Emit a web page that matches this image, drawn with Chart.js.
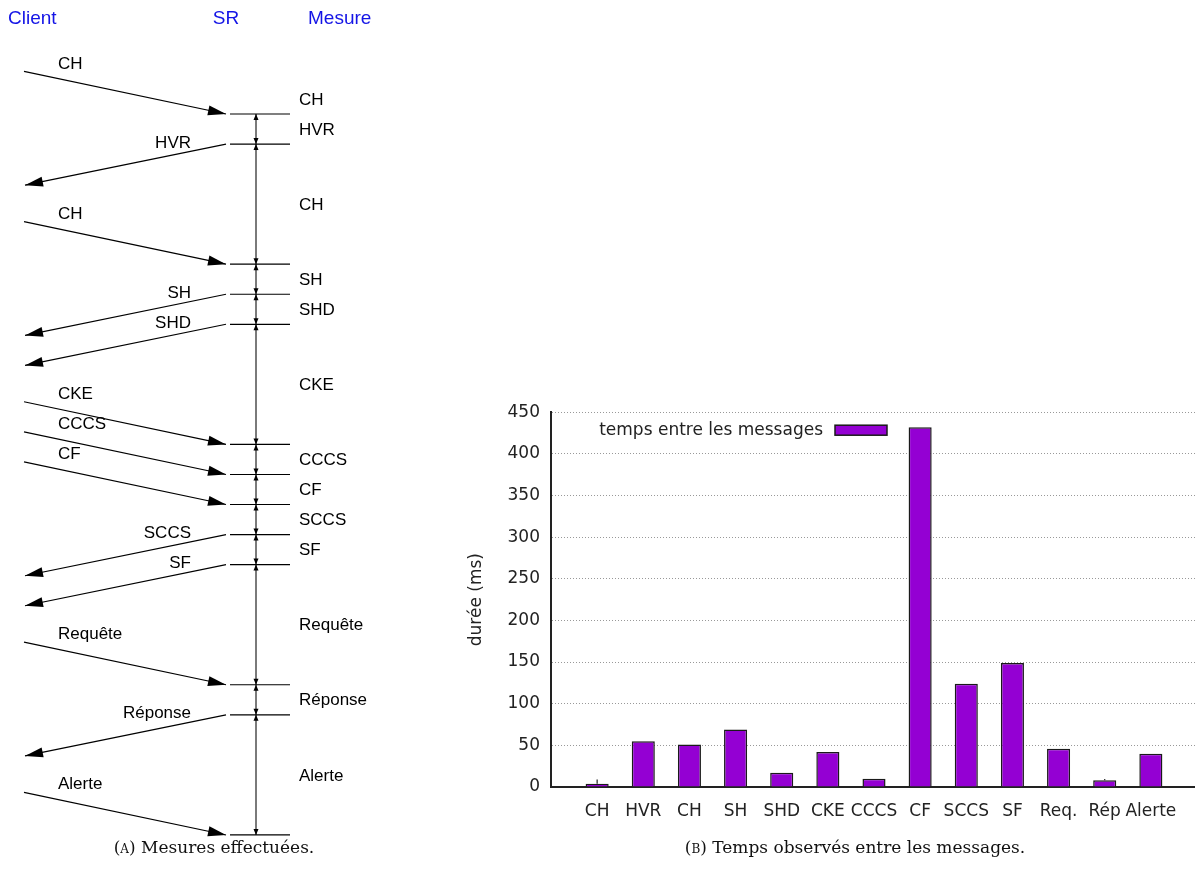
<!DOCTYPE html>
<html lang="fr">
<head>
<meta charset="utf-8">
<title>Mesures et temps entre les messages</title>
<script src="https://cdn.jsdelivr.net/npm/chart.js@4.4.0/dist/chart.umd.min.js"></script>
<style>
    html, body { margin: 0; padding: 0; background: #fff; overflow: hidden; }
    body { width: 1195px; height: 885px; position: relative; }
    #sequence { position: absolute; left: 0; top: 0; }
    #durations { position: absolute; left: 440px; top: 391px; }
    .caption {
        position: absolute; top: 836px;
        font-family: "DejaVu Serif", "Liberation Serif", serif;
        font-size: 17px; line-height: 22px; text-align: center; color: #111;
    }
    .sc { font-variant: small-caps; }
</style>
</head>
<body>
<canvas id="sequence" width="400" height="845"></canvas>
<canvas id="durations" width="771" height="439"></canvas>
<div class="caption" style="left:0;width:428px">(<span class="sc">a</span>) Mesures effectuées.</div>
<div class="caption" style="left:555px;width:600px">(<span class="sc">b</span>) Temps observés entre les messages.</div>

<script>
// (b) temps entre les messages
const barLabels = ['CH', 'HVR', 'CH', 'SH', 'SHD', 'CKE', 'CCCS', 'CF', 'SCCS', 'SF', 'Req.', 'Rép', 'Alerte'];
const barValues = [4, 55, 51, 69, 17, 42, 10, 432, 124, 149, 46, 8, 40];
const barErrors = [5, 0, 0, 0, 0, 0, 0, 0, 0, 0, 0, 1.5, 0];
const yTicks = [0, 50, 100, 150, 200, 250, 300, 350, 400, 450];
const seriesLabel = 'temps entre les messages';

// (a) schéma des échanges
const participants = ['Client', 'SR', 'Mesure'];
const messages = ['CH', 'HVR', 'CH', 'SH', 'SHD', 'CKE', 'CCCS', 'CF', 'SCCS', 'SF', 'Requête', 'Réponse', 'Alerte'];
const directions = ['in', 'out', 'in', 'out', 'out', 'in', 'in', 'in', 'out', 'out', 'in', 'out', 'in'];
const eventSteps = [0, 1, 5, 6, 7, 11, 12, 13, 14, 15, 19, 20, 24];

Chart.defaults.font.family = '"DejaVu Sans", sans-serif';
Chart.defaults.color = '#222';

// --- schéma (a) ---
const CLIENT_X = 24, SR_X = 226, TICK_L = 230, TICK_R = 290, MEASURE_X = 256;
const IN_RISE = 1.42, OUT_DROP = 1.37;
const SANS = '"Liberation Sans", Arial, sans-serif';

const seqDatasets = [];
messages.forEach((m, i) => {
    const ev = eventSteps[i];
    const pts = directions[i] === 'in'
        ? [{ x: CLIENT_X, y: ev - IN_RISE }, { x: SR_X, y: ev }]
        : [{ x: SR_X, y: ev }, { x: CLIENT_X + 1, y: ev + OUT_DROP }];
    seqDatasets.push({ label: m, data: pts, borderColor: '#000', borderWidth: 1.2 });
    seqDatasets.push({ label: m, data: [{ x: TICK_L, y: ev }, { x: TICK_R, y: ev }], borderColor: '#000', borderWidth: 1.2 });
});
seqDatasets.push({
    label: 'mesure',
    data: [{ x: MEASURE_X, y: eventSteps[0] }, { x: MEASURE_X, y: eventSteps[eventSteps.length - 1] }],
    borderColor: '#7a7a7a', borderWidth: 2
});

function arrowHead(ctx, x0, y0, x1, y1, len, half) {
    const a = Math.atan2(y1 - y0, x1 - x0);
    const bx = x1 - len * Math.cos(a), by = y1 - len * Math.sin(a);
    ctx.beginPath();
    ctx.moveTo(x1, y1);
    ctx.lineTo(bx - half * Math.sin(a), by + half * Math.cos(a));
    ctx.lineTo(bx + half * Math.sin(a), by - half * Math.cos(a));
    ctx.closePath();
    ctx.fill();
}

const sequenceDecor = {
    id: 'sequenceDecor',
    afterDatasetsDraw(chart) {
        const { ctx, scales: { x, y } } = chart;
        ctx.save();

        // en-têtes
        ctx.font = '19px ' + SANS;
        ctx.fillStyle = '#1414e6';
        ctx.textBaseline = 'alphabetic';
        ctx.textAlign = 'left';
        ctx.fillText(participants[0], 8, 24);
        ctx.textAlign = 'center';
        ctx.fillText(participants[1], x.getPixelForValue(SR_X), 24);
        ctx.textAlign = 'left';
        ctx.fillText(participants[2], 308, 24);

        ctx.fillStyle = '#000';
        ctx.font = '17px ' + SANS;
        ctx.textBaseline = 'middle';

        messages.forEach((m, i) => {
            const ev = eventSteps[i];
            const ds = chart.data.datasets[i * 2].data;
            const p0 = { x: x.getPixelForValue(ds[0].x), y: y.getPixelForValue(ds[0].y) };
            const p1 = { x: x.getPixelForValue(ds[1].x), y: y.getPixelForValue(ds[1].y) };
            arrowHead(ctx, p0.x, p0.y, p1.x, p1.y, 18, 5);

            if (directions[i] === 'in') {
                ctx.textAlign = 'left';
                ctx.fillText(m, 58, p0.y - 7.5);
            } else {
                ctx.textAlign = 'right';
                ctx.fillText(m, 191, p0.y - 1);
            }

            // libellé de la mesure, entre deux événements
            const prev = i === 0 ? ev - 1 : eventSteps[i - 1];
            ctx.textAlign = 'left';
            ctx.fillText(m, 299, y.getPixelForValue((prev + ev) / 2) + 1);

            // petites flèches sur l'axe des mesures
            const mx = x.getPixelForValue(MEASURE_X), my = y.getPixelForValue(ev);
            if (i > 0) arrowHead(ctx, mx, my - 10, mx, my, 6, 2.5);
            if (i < messages.length - 1) arrowHead(ctx, mx, my + 10, mx, my, 6, 2.5);
        });
        ctx.restore();
    }
};

new Chart(document.getElementById('sequence'), {
    type: 'scatter',
    data: { datasets: seqDatasets },
    options: {
        responsive: false,
        animation: false,
        events: [],
        showLine: true,
        elements: { point: { radius: 0 }, line: { tension: 0, fill: false } },
        layout: { padding: 0 },
        plugins: { legend: { display: false }, tooltip: { enabled: false } },
        scales: {
            x: { type: 'linear', display: false, min: 0, max: 400 },
            y: { type: 'linear', display: false, min: -3.795, max: 24.334, reverse: true }
        }
    },
    plugins: [sequenceDecor]
});

// --- histogramme (b) ---
const errorBars = {
    id: 'errorBars',
    afterDatasetsDraw(chart) {
        const { ctx, scales: { y } } = chart;
        const meta = chart.getDatasetMeta(0);
        ctx.save();
        ctx.strokeStyle = '#222';
        ctx.lineWidth = 1.2;
        meta.data.forEach((bar, i) => {
            if (!barErrors[i]) return;
            ctx.beginPath();
            ctx.moveTo(bar.x, y.getPixelForValue(barValues[i]));
            ctx.lineTo(bar.x, y.getPixelForValue(barValues[i] + barErrors[i]));
            ctx.stroke();
        });
        ctx.restore();
    }
};

// axe vertical plein (le pointillé de la grille s'applique aussi à la bordure)
const solidYAxis = {
    id: 'solidYAxis',
    afterDraw(chart) {
        const { ctx, chartArea } = chart;
        ctx.save();
        ctx.strokeStyle = '#222';
        ctx.lineWidth = 2;
        ctx.beginPath();
        ctx.moveTo(chartArea.left, chartArea.top);
        ctx.lineTo(chartArea.left, chartArea.bottom + 1);
        ctx.stroke();
        ctx.restore();
    }
};

const legendRight = {
    id: 'legendRight',
    afterDraw(chart) {
        const ds = chart.data.datasets[0];
        const { ctx, chartArea } = chart;
        const textRight = chartArea.left + 272, midY = chartArea.top + 18;
        ctx.save();
        ctx.font = '17px "DejaVu Sans", sans-serif';
        ctx.fillStyle = '#222';
        ctx.textAlign = 'right';
        ctx.textBaseline = 'middle';
        ctx.fillText(ds.label, textRight, midY);
        ctx.fillStyle = ds.backgroundColor;
        ctx.fillRect(textRight + 12, midY - 5, 52, 10);
        ctx.strokeStyle = ds.borderColor;
        ctx.lineWidth = 1.5;
        ctx.strokeRect(textRight + 12, midY - 5, 52, 10);
        ctx.restore();
    }
};

new Chart(document.getElementById('durations'), {
    type: 'bar',
    data: {
        datasets: [{
            label: seriesLabel,
            data: barValues.map((v, i) => ({ x: i, y: v })),
            backgroundColor: '#9400d3',
            borderColor: '#1a1a1a',
            borderWidth: 1.5,
            barPercentage: 0.5,
            categoryPercentage: 1
        }]
    },
    options: {
        responsive: false,
        animation: false,
        events: [],
        layout: { padding: { top: 0, right: 0 } },
        plugins: { legend: { display: false }, tooltip: { enabled: false } },
        scales: {
            x: {
                type: 'linear', min: -1, max: 13, offset: false,
                grid: { display: false, drawTicks: false },
                border: { display: true, color: '#222', width: 2 },
                ticks: {
                    stepSize: 1, autoSkip: false, maxRotation: 0, padding: 14,
                    font: { size: 17 },
                    callback: v => barLabels[v] ?? ''
                },
                afterFit: s => { s.height = 43; }
            },
            y: {
                min: 0, max: 450,
                afterBuildTicks: s => { s.ticks = yTicks.map(v => ({ value: v })); },
                grid: {
                    color: c => (c.tick && c.tick.value === 0 ? 'rgba(0,0,0,0)' : '#999'),
                    drawTicks: false, lineWidth: 1
                },
                border: { display: true, color: '#222', width: 2, dash: [1, 2] },
                ticks: { padding: 11, font: { size: 17 } },
                title: { display: true, text: 'durée (ms)', font: { size: 17 }, padding: { top: 26, bottom: 0 } },
                afterFit: s => { s.width = 111; }
            }
        }
    },
    plugins: [errorBars, solidYAxis, legendRight]
});
</script>
</body>
</html>
